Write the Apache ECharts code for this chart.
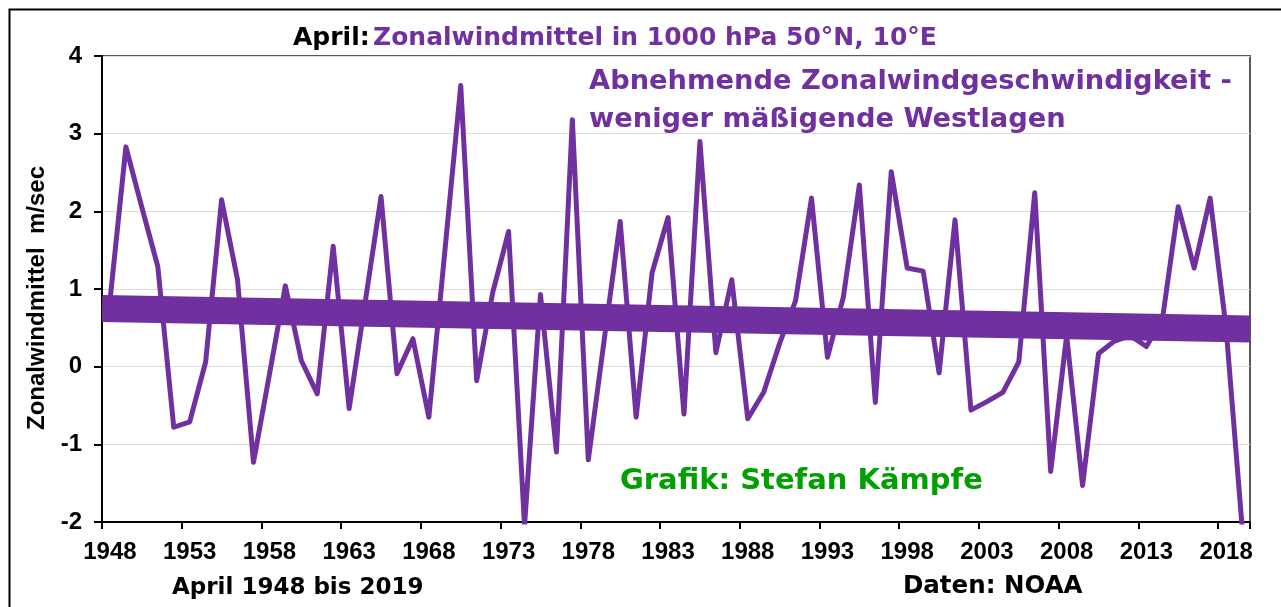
<!DOCTYPE html>
<html>
<head>
<meta charset="utf-8">
<script src="https://cdn.jsdelivr.net/npm/echarts@6/dist/echarts.min.js"></script>
<style>
html,body{margin:0;padding:0;background:#fff;}
#chart{width:1281px;height:607px;}
</style>
</head>
<body>
<div id="chart"></div>
<script>
const years = ['1948','1949','1950','1951','1952','1953','1954','1955','1956','1957',
  '1958','1959','1960','1961','1962','1963','1964','1965','1966','1967',
  '1968','1969','1970','1971','1972','1973','1974','1975','1976','1977',
  '1978','1979','1980','1981','1982','1983','1984','1985','1986','1987',
  '1988','1989','1990','1991','1992','1993','1994','1995','1996','1997',
  '1998','1999','2000','2001','2002','2003','2004','2005','2006','2007',
  '2008','2009','2010','2011','2012','2013','2014','2015','2016','2017',
  '2018','2019'];
const zonalWind = [0.85, 2.83, 2.05, 1.29, -0.78, -0.71, 0.06, 2.15, 1.12, -1.23,
  -0.10, 1.04, 0.08, -0.35, 1.55, -0.54, 0.82, 2.19, -0.09, 0.36,
  -0.65, 1.48, 3.62, -0.18, 0.95, 1.74, -2.05, 0.93, -1.10, 3.18,
  -1.20, 0.35, 1.87, -0.65, 1.21, 1.92, -0.61, 2.90, 0.18, 1.12,
  -0.67, -0.33, 0.30, 0.85, 2.17, 0.12, 0.90, 2.34, -0.46, 2.51,
  1.27, 1.23, -0.08, 1.89, -0.56, -0.45, -0.33, 0.06, 2.24, -1.35,
  0.40, -1.53, 0.17, 0.33, 0.40, 0.26, 0.60, 2.06, 1.27, 2.17,
  0.50, -2.05];
// linear trend, given at the outer edges of the first and last year slot
const trendPos = [-0.5, 71.5];
const trendValues = [0.75, 0.485];
const yTicks = [-2, -1, 0, 1, 2, 3, 4];

const purple = '#7030a0';
const green = '#00a000';
const fontA = "'Liberation Sans', Arial, sans-serif";
const fontB = "'DejaVu Sans', 'Liberation Sans', sans-serif";

const chart = echarts.init(document.getElementById('chart'), null, {renderer: 'canvas'});
chart.setOption({
  animation: false,
  backgroundColor: '#fff',
  grid: {
    left: 102, right: 31, top: 56, bottom: 85,
    show: true, borderColor: '#595959', borderWidth: 2, backgroundColor: 'transparent'
  },
  xAxis: [{
    type: 'category',
    data: years,
    boundaryGap: true,
    axisLine: {onZero: false, lineStyle: {color: '#000', width: 2}},
    axisTick: {show: true, interval: 4, length: 7, lineStyle: {color: '#000', width: 2}},
    axisLabel: {interval: 4, color: '#000', fontFamily: fontA, fontWeight: 'bold', fontSize: 24, margin: 18},
    splitLine: {show: false}
  }, {
    type: 'value',
    min: trendPos[0], max: trendPos[1],
    show: false
  }],
  yAxis: {
    type: 'value',
    min: yTicks[0], max: yTicks[yTicks.length - 1], interval: 1,
    axisLine: {show: true, onZero: false, lineStyle: {color: '#000', width: 2}},
    axisTick: {show: true, length: 8, lineStyle: {color: '#000', width: 2}},
    axisLabel: {color: '#000', fontFamily: fontA, fontWeight: 'bold', fontSize: 24, margin: 20},
    splitLine: {show: true, lineStyle: {color: '#dcdcdc', width: 1}}
  },
  series: [
    {
      type: 'line',
      data: zonalWind,
      symbol: 'none',
      clip: true,
      lineStyle: {color: purple, width: 5, join: 'round'},
      z: 2
    },
    {
      type: 'line',
      xAxisIndex: 1,
      data: trendPos.map((p, i) => [p, trendValues[i]]),
      symbol: 'none',
      clip: true,
      lineStyle: {color: purple, width: 27, cap: 'butt'},
      z: 3
    }
  ],
  graphic: [
    {
      type: 'rect', left: 7, top: 7, z: -10, silent: true,
      shape: {width: 1300, height: 640},
      style: {fill: 'none', stroke: '#000', lineWidth: 2}
    },
    {
      type: 'text', x: 293, y: 38,
      style: {
        text: '{a|April:} {b|Zonalwindmittel in 1000 hPa 50°N, 10°E}',
        verticalAlign: 'middle',
        rich: {
          a: {fontFamily: fontB, fontWeight: 'bold', fontSize: 25, fill: '#000'},
          b: {fontFamily: fontB, fontWeight: 'bold', fontSize: 25, fill: purple}
        }
      }
    },
    {
      type: 'text', x: 37, y: 298, rotation: Math.PI / 2,
      style: {text: 'Zonalwindmittel  m/sec', fontFamily: fontA, fontWeight: 'bold',
        fontSize: 24, fill: '#000', align: 'center', verticalAlign: 'middle'}
    },
    {
      type: 'text', x: 589, y: 82,
      style: {text: 'Abnehmende Zonalwindgeschwindigkeit -', fontFamily: fontB, fontWeight: 'bold',
        fontSize: 27.3, fill: purple, verticalAlign: 'middle'}
    },
    {
      type: 'text', x: 589, y: 120,
      style: {text: 'weniger mäßigende Westlagen', fontFamily: fontB, fontWeight: 'bold',
        fontSize: 27.3, fill: purple, verticalAlign: 'middle'}
    },
    {
      type: 'text', x: 620, y: 481,
      style: {text: 'Grafik: Stefan Kämpfe', fontFamily: fontB, fontWeight: 'bold',
        fontSize: 29, fill: green, verticalAlign: 'middle'}
    },
    {
      type: 'text', x: 172, y: 588,
      style: {text: 'April 1948 bis 2019', fontFamily: fontB, fontWeight: 'bold',
        fontSize: 23, fill: '#000', verticalAlign: 'middle'}
    },
    {
      type: 'text', x: 903, y: 587,
      style: {text: 'Daten: NOAA', fontFamily: fontB, fontWeight: 'bold',
        fontSize: 24.5, fill: '#000', verticalAlign: 'middle'}
    }
  ]
});
</script>
</body>
</html>
